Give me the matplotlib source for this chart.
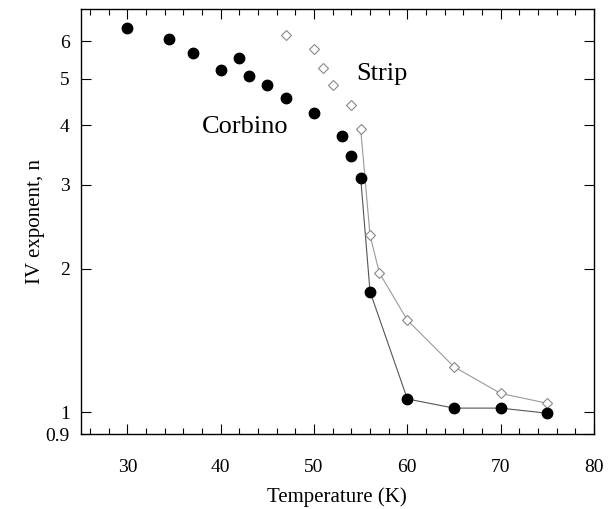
import numpy as np
import matplotlib.pyplot as plt
from matplotlib.ticker import FixedLocator, MultipleLocator, NullLocator

plt.rcParams['font.family'] = ['Liberation Serif', 'DejaVu Serif']

# Corbino data (filled circles)
t_corbino = [30, 34.5, 37, 40, 42, 43, 45, 47, 50, 53, 54, 55, 56, 60, 65, 70, 75]
n_corbino = [6.39, 6.07, 5.67, 5.21, 5.52, 5.08, 4.85, 4.56, 4.25, 3.80, 3.44,
             3.10, 1.79, 1.066, 1.02, 1.02, 0.995]
# Strip data (open diamonds)
t_strip = [47, 50, 51, 52, 54, 55, 56, 57, 60, 65, 70, 75]
n_strip = [6.19, 5.79, 5.28, 4.85, 4.42, 3.92, 2.35, 1.96, 1.56, 1.245, 1.095, 1.044]

ytick_vals = [0.9, 1, 2, 3, 4, 5, 6]
ytick_labels = ['0.9', '1', '2', '3', '4', '5', '6']

fig = plt.figure(figsize=(6.13, 5.09), dpi=100)
ax = fig.add_axes([0.1317, 0.1473, 0.969 - 0.1317, 0.9817 - 0.1473])

# connecting curves for the high-temperature part
ic = t_corbino.index(55)
iS = t_strip.index(55)
ax.plot(t_strip[iS:], n_strip[iS:], color='#999999', lw=0.8, zorder=1)
ax.plot(t_corbino[ic:], n_corbino[ic:], color='#555555', lw=0.8, zorder=1)

ax.plot(t_strip, n_strip, ls='none', marker='D', ms=5.5, mfc='white',
        mec='#888888', mew=0.8, zorder=2)
ax.plot(t_corbino, n_corbino, ls='none', marker='o', ms=7.5, mfc='black',
        mec='black', zorder=3)

ax.set_yscale('log')
ax.set_xlim(25, 80)
ax.set_ylim(0.9, 7.0)
ax.yaxis.set_major_locator(FixedLocator(ytick_vals))
ax.set_yticklabels(ytick_labels)
ax.yaxis.set_minor_locator(NullLocator())
ax.xaxis.set_major_locator(MultipleLocator(10))
ax.xaxis.set_minor_locator(MultipleLocator(2))

ax.tick_params(which='both', direction='in', top=True, right=True,
               labelsize=14, width=0.8)
ax.tick_params(which='major', length=7)
ax.tick_params(which='minor', length=4)
ax.tick_params(axis='x', pad=18)
ax.tick_params(axis='y', pad=8)

ax.set_xlabel('Temperature (K)', fontsize=15, labelpad=8)
ax.set_ylabel('IV exponent, n', fontsize=15, labelpad=0)

ax.text(42.6, 3.96, 'Corbino', fontsize=19, ha='center', va='center')
ax.text(57.3, 5.13, 'Strip', fontsize=19, ha='center', va='center')

for s in ax.spines.values():
    s.set_linewidth(1.0)

fig.savefig('out.png', dpi=100)
